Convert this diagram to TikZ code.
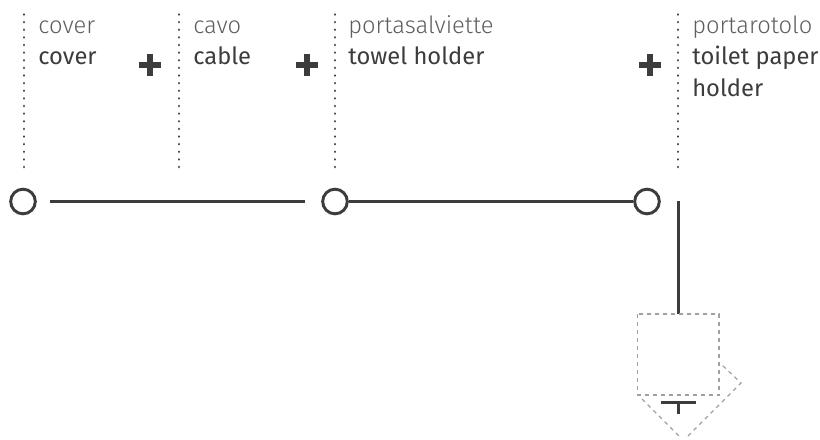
\documentclass[tikz,border=0pt]{standalone}
\usepackage{fontspec}
\setmainfont{Fira Sans}
\newfontfamily\lightfont{Fira Sans Light}
\definecolor{ink}{HTML}{3C3C3C}
\definecolor{soft}{HTML}{5E5E5E}
\definecolor{ghostgray}{HTML}{A0A0A0}
\tikzset{
  dotline/.style={ink,line width=2pt,line cap=round,dash pattern=on 0.01pt off 5.71pt},
  wire/.style={ink,line width=2.2pt},
  ring/.style={circle,draw=ink,line width=2.2pt,minimum size=18.5pt,inner sep=0pt},
  ghost/.style={ghostgray,line width=0.9pt,dash pattern=on 3pt off 3pt},
  it/.style={ink,anchor=base west,inner sep=0pt,font=\fontsize{17.8pt}{20pt}\selectfont},
  en/.style={soft,anchor=base west,inner sep=0pt,font=\lightfont\fontsize{17.8pt}{20pt}\selectfont},
  plusmark/.style={ink,line width=4.6pt}
}
\begin{document}
\begin{tikzpicture}[x=0.75pt,y=-0.75pt]
\useasboundingbox (0,0) rectangle (820,439);
\foreach \n/\x in {a/24,b/179,c/335,d/678}{
  \coordinate (\n t) at (\x,14.5);
  \coordinate (\n b) at (\x,168);
  \draw[dotline] (\n t) -- (\n b);
}
\node[en] (t1) at (38,33) {cover};
\node[it] (t2) at (38,64) {cover};
\node[en] (t3) at (193,33) {cavo};
\node[it] (t4) at (193,64) {cable};
\node[en] (t5) at (348,33) {portasalviette};
\node[it] (t6) at (348,64) {towel holder};
\node[en] (t7) at (692,33) {portarotolo};
\node[it] (t8) at (692,64) {toilet paper};
\node[it] (t9) at (692,96) {holder};
\foreach \n/\x/\y in {p/150/65,q/307/65,r/650/65}{
  \coordinate (\n) at (\x,\y);
  \draw[plusmark] ([xshift=-8pt]\n) -- ([xshift=8pt]\n);
  \draw[plusmark] ([yshift=-8pt]\n) -- ([yshift=8pt]\n);
}
\node[ring] (c1) at (23,201.5) {};
\node[ring] (c2) at (335,201.5) {};
\node[ring] (c3) at (647,201.5) {};
\coordinate (w1) at (50,201.5);
\coordinate (w2) at (305,201.5);
\draw[wire] (w1) -- (w2);
\draw[wire] (c2) -- (c3);
\coordinate (v1) at (678.5,201);
\coordinate (v2) at (678.5,314);
\draw[wire] (v1) -- (v2);
\draw[ghost] (637.5,314) rectangle (719,395);
\draw[ghost] (642,399) -- (679,436);
\draw[ghost] (688,436) -- (741,383) -- (722,365);
\coordinate (h1) at (661,402.5);
\coordinate (h2) at (696,402.5);
\coordinate (s1) at (678.5,402.5);
\coordinate (s2) at (678.5,414);
\draw[wire] (h1) -- (h2);
\draw[wire] (s1) -- (s2);
\end{tikzpicture}
\end{document}
